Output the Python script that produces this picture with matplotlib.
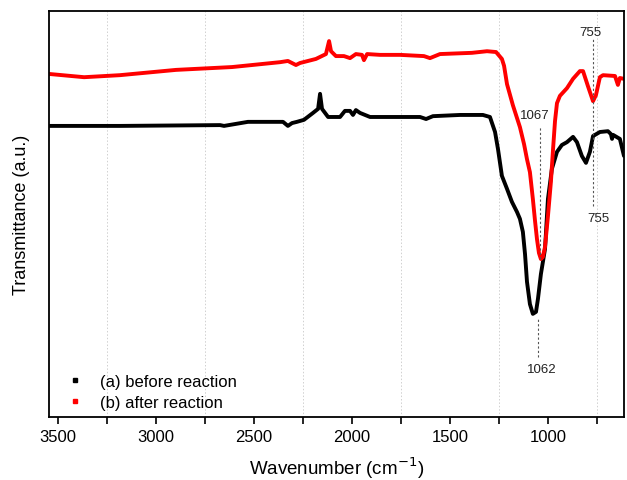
import matplotlib
matplotlib.use("Agg")
import matplotlib.pyplot as plt
from matplotlib.lines import Line2D

plt.rcParams['font.family'] = ['Liberation Sans', 'DejaVu Sans']

# wavenumber (cm-1) and transmittance (a.u.)
before_wn = [3546, 3184, 2673, 2653, 2531, 2352, 2327, 2306, 2281, 2245, 2199, 2173, 2163,
             2153, 2122, 2061, 2036, 2010, 1995, 1980, 1959, 1908, 1653, 1622, 1587, 1449,
             1332, 1296, 1270, 1255, 1235, 1209, 1184, 1158, 1143, 1128, 1117, 1107, 1092,
             1077, 1061, 1051, 1036, 1015, 1000, 980, 954, 929, 903, 872, 852, 827, 806,
             786, 770, 735, 694, 679, 673, 668, 633, 612]
before_t = [71.7, 71.7, 71.9, 71.7, 72.7, 72.7, 71.7, 72.4, 72.7, 73.2, 74.9, 75.9, 79.6,
            75.9, 73.9, 73.9, 75.4, 75.4, 74.4, 75.6, 74.9, 73.9, 73.9, 73.4, 74.1, 74.4,
            74.4, 73.9, 70.2, 66.0, 59.4, 56.2, 53.0, 50.5, 48.8, 45.6, 40.1, 33.3, 27.8,
            25.4, 25.9, 29.1, 35.2, 41.4, 53.7, 61.1, 65.3, 67.0, 67.7, 69.0, 67.7, 64.3, 62.6,
            65.3, 69.2, 70.2, 70.4, 69.7, 68.5, 69.5, 68.5, 64.3]

after_wn = [3546, 3367, 3184, 2898, 2612, 2367, 2327, 2286, 2265, 2184, 2133, 2117, 2107,
            2082, 2041, 2010, 1980, 1949, 1939, 1923, 1857, 1755, 1633, 1602, 1551, 1388,
            1311, 1265, 1235, 1224, 1209, 1179, 1143, 1122, 1107, 1092, 1077, 1066, 1056,
            1046, 1036, 1026, 1015, 1000, 985, 974, 964, 954, 939, 903, 872, 837, 821, 796,
            770, 755, 735, 719, 658, 643, 633, 612]
after_t = [84.5, 83.7, 84.2, 85.5, 86.2, 87.4, 87.7, 86.7, 87.2, 88.2, 89.4, 92.6, 90.1,
           88.9, 88.9, 88.4, 89.4, 89.2, 87.9, 89.4, 89.2, 89.2, 88.9, 88.4, 89.4, 89.7,
           90.1, 89.9, 88.2, 86.5, 82.0, 76.8, 71.4, 67.2, 63.5, 60.3, 53.7, 48.3, 43.8,
           40.4, 38.9, 39.4, 41.9, 49.5, 57.9, 66.0, 72.9, 77.3, 79.1, 81.0, 83.3, 85.2, 85.2, 81.5,
           77.8, 79.3, 83.7, 84.2, 84.0, 81.8, 83.5, 83.3]

series_labels = ["(a) before reaction", "(b) after reaction"]
series_colors = ["black", "red"]
major_ticks = [3500, 3000, 2500, 2000, 1500, 1000]
minor_ticks = [3250, 2750, 2250, 1750, 1250, 750]

fig = plt.figure(figsize=(6.27, 4.81), dpi=100)
ax = fig.add_axes([0.0782, 0.131, 0.917, 0.844])

ax.plot(before_wn, before_t, color=series_colors[0], lw=2.8, solid_joinstyle='round',
        solid_capstyle='round')
ax.plot(after_wn, after_t, color=series_colors[1], lw=2.8, solid_joinstyle='round',
        solid_capstyle='round')

ax.set_xlim(3546, 612)
ax.set_ylim(0, 100)
ax.set_xticks(major_ticks)
ax.set_xticks(minor_ticks, minor=True)
ax.set_yticks([])
ax.tick_params(axis='x', which='both', direction='out', length=5, width=1.2, labelsize=12)
for x in minor_ticks:
    ax.axvline(x, color='#d0d0d0', lw=0.7, ls=(0, (1.5, 2)), zorder=0)
for s in ax.spines.values():
    s.set_linewidth(1.3)

ax.set_xlabel("Wavenumber (cm$^{-1}$)", fontsize=13.5, labelpad=8)
ax.set_ylabel("Transmittance (a.u.)", fontsize=13, labelpad=14)

# annotations
dot = dict(color='#555555', lw=0.8, ls=(0, (2, 2)))
ax.plot([1041, 1041], [38.9, 71.4], **dot)
ax.text(1066, 74.3, "1067", fontsize=9.5, ha='center', va='center', color='#222222')
ax.plot([1051, 1051], [14.8, 24.6], **dot)
ax.text(1031, 11.8, "1062", fontsize=9.5, ha='center', va='center', color='#222222')
ax.plot([770, 770], [52.0, 93.1], **dot)
ax.text(786, 94.8, "755", fontsize=9.5, ha='center', va='center', color='#222222')
ax.text(745, 49.0, "755", fontsize=9.5, ha='center', va='center', color='#222222')

handles = [Line2D([], [], color=c, marker='s', ls='none', markersize=2.2) for c in series_colors]
ax.legend(handles, series_labels, loc='lower left', bbox_to_anchor=(0.001, -0.02),
          frameon=False, fontsize=12, handlelength=1.2, handletextpad=0.9, labelspacing=0.38)

fig.savefig("out.png", dpi=100)
